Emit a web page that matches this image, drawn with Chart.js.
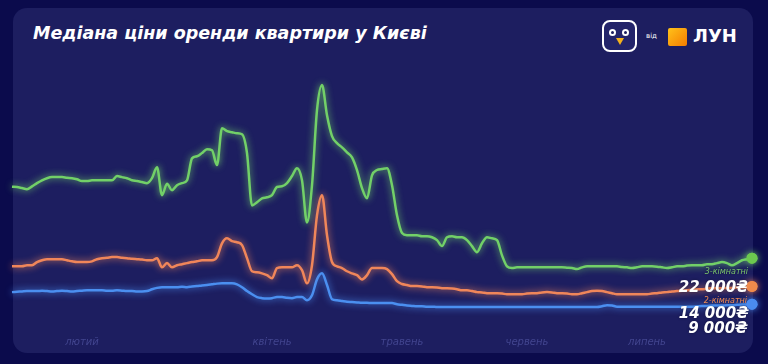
<!DOCTYPE html>
<html lang="uk">
<head>
<meta charset="utf-8">
<script src="https://cdn.jsdelivr.net/npm/chart.js@4.4.0/dist/chart.umd.min.js"></script>
<style>
  html, body { margin: 0; padding: 0; width: 768px; height: 364px; overflow: hidden; background: #0b0b4c; }
  #card { position: absolute; left: 13px; top: 8px; width: 740px; height: 345px; border-radius: 14px; background: #1d1e60; }
  #title { position: absolute; left: 33px; top: 23px; color: #fff; font: italic bold 17.5px "DejaVu Sans", sans-serif; white-space: nowrap; }
  #logo { position: absolute; left: 602px; top: 20px; height: 34px; }
  .peng { position: absolute; left: 0; top: 0; width: 31px; height: 28px; border: 2px solid #fff; border-radius: 8px; background: #23246a; }
  .eye { position: absolute; top: 7px; width: 7px; height: 7px; border-radius: 50%; background: #fff; }
  .eye::after { content: ""; position: absolute; left: 2px; top: 2px; width: 3px; height: 3px; border-radius: 50%; background: #1d1e60; }
  .eye.l { left: 5px; } .eye.r { left: 18px; }
  .beak { position: absolute; left: 12px; top: 16px; width: 0; height: 0; border-left: 4px solid transparent; border-right: 4px solid transparent; border-top: 7px solid #f5b21c; }
  .vid { position: absolute; left: 44px; top: 12px; color: #fff; font: 7px "DejaVu Sans", sans-serif; }
  .sq { position: absolute; left: 66px; top: 8px; width: 19px; height: 18px; border-radius: 2px; background: linear-gradient(135deg, #ffc21a, #f57c00); }
  .lun { position: absolute; left: 91px; top: 5px; color: #fff; font: bold 18px "DejaVu Sans", sans-serif; }
  #wrap { position: absolute; left: 0; top: 0; }
</style>
</head>
<body>
<div id="card"></div>
<div id="title">Медіана ціни оренди квартири у Києві</div>
<div id="logo">
  <div class="peng"><span class="eye l"></span><span class="eye r"></span><span class="beak"></span></div>
  <span class="vid">від</span>
  <span class="sq"></span>
  <span class="lun">ЛУН</span>
</div>
<div id="wrap"><canvas id="myChart" width="768" height="364"></canvas></div>
<script>
// month captions and where they sit on the daily axis
var monthNames = ['лютий', 'квітень', 'травень', 'червень', 'липень'];
var monthIndex = [14, 52, 78, 103, 127];

// median rent, UAH (3-, 2-, 1-room flats)
var rooms3 = [
  42200, 42100, 41800, 41500, 42300, 43200, 44000, 44600, 44900, 44900,
  44900, 44700, 44600, 44300, 43800, 43800, 44000, 44000, 44000, 44000,
  44000, 45200, 44900, 44600, 44000, 43800, 43500, 43200, 44600, 47700,
  39800, 43000, 41200, 42600, 43200, 44000, 50200, 50800, 51700, 52800,
  52500, 48300, 58700, 57900, 57600, 57300, 57000, 51700, 36900, 37800,
  38900, 39200, 39800, 42100, 42300, 43200, 45200, 47400, 44000, 32100,
  42600, 63800, 70900, 62400, 56500, 54500, 53300, 51900, 50500, 46900,
  41800, 38900, 45400, 46900, 47200, 47400, 42600, 34100, 29100, 28500,
  28500, 28500, 28200, 28200, 27900, 27100, 25400, 27900, 28200, 27900,
  27900, 27100, 25400, 23700, 26200, 27900, 27600, 27100, 22800, 19700,
  19200, 19400, 19400, 19400, 19400, 19400, 19400, 19400, 19400, 19400,
  19400, 19300, 19200, 18900, 19400, 19700, 19700, 19700, 19700, 19700,
  19700, 19700, 19500, 19400, 19200, 19400, 19700, 19700, 19700, 19600,
  19400, 19200, 19400, 19700, 19700, 19900, 20000, 20000, 20000, 20300,
  20300, 20600, 20900, 20600, 20000, 20600, 21400, 21700, 22000
];
var rooms2 = [
  19700, 19700, 19700, 20000, 20000, 20900, 21400, 21700, 21700, 21700,
  21700, 21400, 21100, 20900, 20900, 20900, 21100, 21700, 22000, 22100,
  22300, 22300, 22100, 22000, 21800, 21700, 21600, 21400, 21400, 22000,
  19400, 20600, 19400, 20000, 20300, 20600, 20900, 21100, 21400, 21400,
  21400, 22300, 26200, 27600, 26800, 26500, 25700, 22000, 18300, 18000,
  17700, 17200, 16300, 19200, 19400, 19400, 19400, 20000, 18600, 14900,
  20000, 34100, 39800, 28500, 20900, 19700, 19200, 18300, 17700, 17200,
  16000, 17200, 19200, 19200, 19200, 18900, 17500, 15500, 14700, 14400,
  14100, 14100, 14000, 13800, 13800, 13700, 13500, 13500, 13400, 13200,
  12900, 12900, 12700, 12400, 12300, 12100, 12100, 12100, 12000, 11800,
  11800, 11800, 11800, 12000, 12100, 12100, 12300, 12400, 12300, 12100,
  12100, 12000, 11800, 11800, 12100, 12400, 12700, 12800, 12700, 12400,
  12100, 11800, 11800, 11800, 11800, 11800, 11800, 11800, 12000, 12100,
  12300, 12400, 12600, 12700, 12800, 12900, 13100, 13200, 13200, 13400,
  13500, 13500, 13500, 13600, 13600, 13700, 13700, 13800, 14000
];
var rooms1 = [
  12400, 12500, 12600, 12700, 12700, 12700, 12800, 12700, 12600, 12700,
  12800, 12700, 12600, 12700, 12800, 12900, 12900, 12900, 12900, 12800,
  12800, 12900, 12800, 12700, 12700, 12600, 12600, 12700, 13200, 13600,
  13800, 13800, 13800, 13800, 13900, 13800, 14000, 14100, 14300, 14400,
  14600, 14800, 14900, 14900, 14900, 14600, 13800, 12700, 11800, 11000,
  10700, 10600, 10700, 11000, 11000, 10800, 10700, 11000, 11000, 10100,
  11500, 16000, 17700, 14400, 10400, 10100, 9900, 9700, 9600, 9500,
  9400, 9400, 9300, 9300, 9300, 9300, 9300, 9000, 8800, 8600,
  8500, 8400, 8400, 8300, 8300, 8200, 8200, 8200, 8200, 8200,
  8200, 8200, 8200, 8200, 8200, 8200, 8200, 8200, 8200, 8200,
  8200, 8200, 8200, 8200, 8200, 8200, 8200, 8200, 8200, 8200,
  8200, 8200, 8200, 8200, 8200, 8200, 8200, 8200, 8400, 8700,
  8600, 8300, 8300, 8300, 8300, 8300, 8300, 8300, 8300, 8300,
  8300, 8300, 8300, 8300, 8300, 8300, 8300, 8400, 8500, 8500,
  8600, 8600, 8600, 8700, 8700, 8800, 8900, 8900, 9000
];

var labels = rooms3.map(function () { return ''; });
monthIndex.forEach(function (idx, k) { labels[idx] = monthNames[k]; });

function uah(v) {
  return Math.round(v).toString().replace(/\B(?=(\d{3})+(?!\d))/g, ' ') + '₴';
}

function endDot(c) {
  return c.dataIndex === c.dataset.data.length - 1 ? 5.5 : 0;
}

// soft glow under every line
var glow = {
  id: 'glow',
  beforeDatasetDraw: function (chart, args) {
    var ctx = chart.ctx;
    ctx.save();
    ctx.shadowColor = chart.data.datasets[args.index].borderColor;
    ctx.shadowBlur = 7;
  },
  afterDatasetDraw: function (chart) {
    chart.ctx.restore();
  }
};

// captions at the right end of the lines
var endLabels = {
  id: 'endLabels',
  afterDatasetsDraw: function (chart) {
    var ctx = chart.ctx;
    var r = chart.chartArea.right;
    ctx.save();
    ctx.textAlign = 'right';
    ctx.textBaseline = 'middle';
    ctx.shadowColor = 'rgba(0,0,0,0.35)';
    ctx.shadowBlur = 3;

    ctx.font = 'italic 8px "DejaVu Sans"';
    ctx.fillStyle = '#79c36a';
    ctx.fillText('3-кімнатні', r - 4, 272);
    ctx.fillStyle = '#f08a55';
    ctx.fillText('2-кімнатні', r - 5, 301);

    ctx.font = 'italic bold 15px "DejaVu Sans"';
    ctx.fillStyle = '#ffffff';
    ctx.fillText(uah(rooms3[rooms3.length - 1]), r - 3, 288);
    ctx.fillText(uah(rooms2[rooms2.length - 1]), r - 3, 314);
    ctx.fillText(uah(rooms1[rooms1.length - 1]), r - 4, 329);
    ctx.restore();

    // dots sit on top of the captions
    chart.data.datasets.forEach(function (ds, i) {
      var pts = chart.getDatasetMeta(i).data;
      pts[pts.length - 1].draw(ctx);
    });
  }
};

var ctx = document.getElementById('myChart');
var myChart = new Chart(ctx, {
  type: 'line',
  data: {
    labels: labels,
    datasets: [
      {
        label: '3-кімнатні',
        data: rooms3,
        borderColor: '#72d068',
        pointBackgroundColor: '#6cc94f',
      },
      {
        label: '2-кімнатні',
        data: rooms2,
        borderColor: '#f0865a',
        pointBackgroundColor: '#f08a4b',
      },
      {
        label: '1-кімнатні',
        data: rooms1,
        borderColor: '#4b8ff0',
        pointBackgroundColor: '#4a8cf0',
      }
    ]
  },
  options: {
    responsive: false,
    animation: false,
    clip: false,
    elements: {
      line: { borderWidth: 2.5, cubicInterpolationMode: 'monotone' },
      point: { radius: endDot, borderWidth: 0, hoverRadius: 0 }
    },
    layout: { padding: { left: 12, right: 16, top: 60, bottom: 16 } },
    scales: {
      x: {
        grid: { display: false, drawTicks: false },
        border: { display: false },
        ticks: {
          autoSkip: false,
          maxRotation: 0,
          padding: 0,
          color: '#42458f',
          font: { family: 'DejaVu Sans', style: 'italic', size: 10 }
        }
      },
      y: {
        display: false,
        min: 0,
        max: 78000
      }
    },
    plugins: {
      legend: { display: false },
      tooltip: { enabled: false }
    }
  },
  plugins: [glow, endLabels]
});
</script>
</body>
</html>
